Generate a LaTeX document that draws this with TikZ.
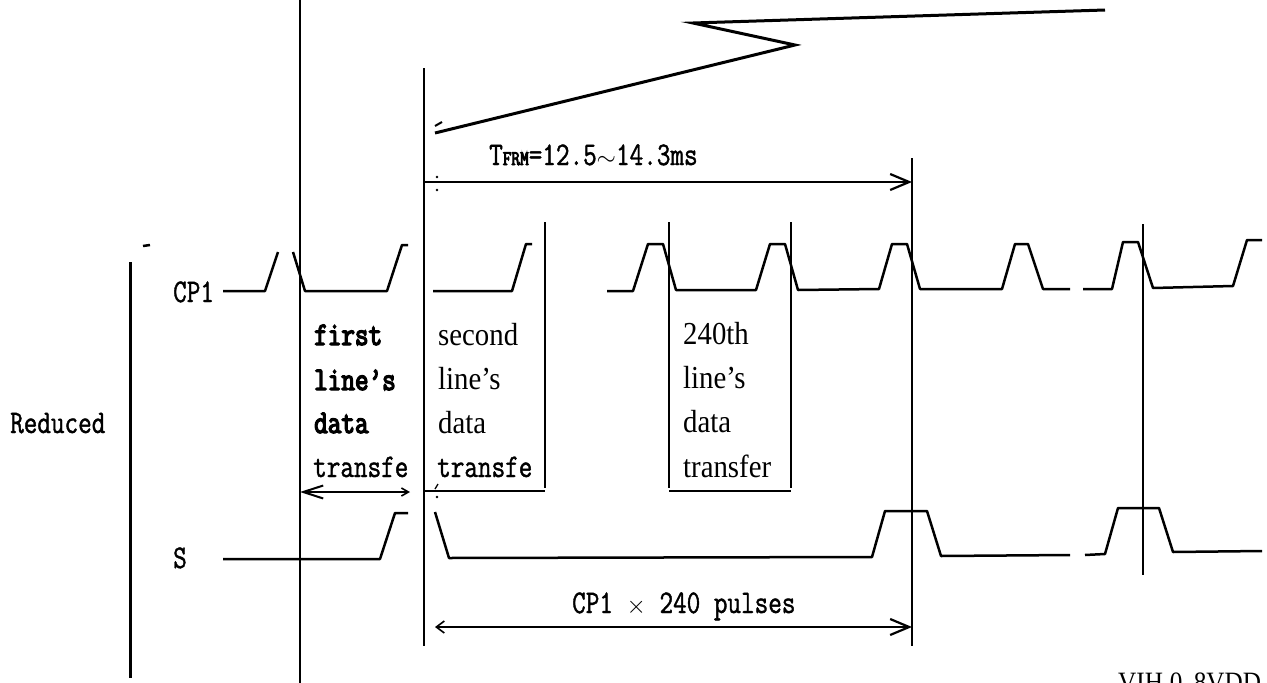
\documentclass[tikz,border=0pt]{standalone}
\usepackage{fontspec}
\usetikzlibrary{arrows.meta}
\newfontfamily\monof{Latin Modern Mono}[FakeStretch=0.8,FakeBold=1.2]
\newfontfamily\monobff{Latin Modern Mono}[FakeStretch=0.8,FakeBold=4]
\newfontfamily\serff{Liberation Serif}[FakeStretch=0.9]
\tikzset{
  txtmono/.style={font=\fontsize{33}{40}\selectfont\monof, inner sep=0pt, anchor=base west},
  txtmonob/.style={font=\fontsize{33}{40}\selectfont\monobff, inner sep=0pt, anchor=base west},
  txtserif/.style={font=\fontsize{32}{38}\selectfont\serff, inner sep=0pt, anchor=base west},
  wave/.style={line width=2.5pt, line join=round},
  vthick/.style={line width=2.5pt},
  vmid/.style={line width=2pt},
  vthin/.style={line width=1.4pt},
  dimarrow/.style={line width=2.2pt},
  bighead/.tip={Straight Barb[length=19pt,width=16pt,line width=2.2pt]},
  smallhead/.tip={Straight Barb[length=8pt,width=12pt,line width=1.6pt]},
}
\begin{document}
\begin{tikzpicture}[x=1pt,y=-1pt]
\clip (0,0) rectangle (1267,683);
\fill[white] (0,0) rectangle (1267,683);

% vertical lines
\draw[line width=3pt] (130,262) -- (130,678);
\draw[line width=2.5pt] (143,246) -- (150,245);
\draw[vthin] (300,0) -- (300,683);
\draw[vthick] (424,68) -- (424,646);
\draw[vmid] (545,222) -- (545,488);
\draw[vmid] (669,222) -- (669,488);
\draw[vmid] (791,222) -- (791,488);
\draw[vthin] (912,158) -- (912,646);
\draw[vthin] (1143,224) -- (1143,575);

% column bottoms
\draw[vmid] (424,491) -- (545,491);
\draw[vmid] (669,491) -- (791,491);
\coordinate (fa) at (300,492);
\coordinate (fb) at (410,492);
\draw[dimarrow, {Straight Barb[length=20pt,width=13pt,line width=2pt]}-{Straight Barb[length=7pt,width=8pt,line width=1.6pt]}] (fa) -- (fb);

% zigzag
\draw[line width=3pt, line join=miter] (435,133) -- (795,45) -- (693,23) -- (1105,10);
\draw[line width=2pt] (435,126) -- (442,122);

% T_FRM arrow
\coordinate (ta) at (424,182);
\coordinate (tb) at (912,182);
\draw[dimarrow, -bighead] (ta) -- (tb);
\fill (437,177) circle (1.3);
\fill (437,190) circle (1.3);
\node[txtmono] (tfrm) at (489,165) {T{\fontsize{21}{24}\selectfont\monobff FRM}=12.5{\fontsize{40}{44}\selectfont$\sim$}14.3ms};

% CP1 x 240 arrow
\coordinate (ca) at (435,627);
\coordinate (cb) at (912,627);
\draw[dimarrow, smallhead-bighead] (ca) -- (cb);
\node[txtmono] (cpn) at (572,613) {CP1 {\fontsize{44}{48}\selectfont$\times$} 240 pulses};

% small marks
\fill (437,497) circle (1.3);
\draw[line width=1.3pt] (435,489) -- (438,484);

% labels
\node[txtmono] (red) at (10,433) {Reduced};
\node[txtmono] (cp1) at (173,302) {CP1};
\node[txtmono] (s) at (173,568) {S};

% CP1 waveform
\draw[wave] (223,291) -- (265,291) -- (278,252);
\draw[wave] (293,252) -- (305,291) -- (387,291) -- (402,245) -- (408,245);
\draw[wave] (433,291) -- (512,291) -- (526,244) -- (532,244);
\draw[wave] (607,291) -- (633,291) -- (648,244) -- (663,244) -- (676,290) -- (756,290)
  -- (770,244) -- (785,244) -- (798,290) -- (879,289) -- (892,244) -- (907,244)
  -- (920,289) -- (1002,289) -- (1015,244) -- (1028,244) -- (1043,289) -- (1070,289);
\draw[wave] (1083,289) -- (1112,289) -- (1123,242) -- (1138,242) -- (1153,288)
  -- (1233,286) -- (1247,240) -- (1262,240);

% S waveform
\draw[wave] (223,559) -- (380,559) -- (395,513) -- (408,513);
\draw[wave] (435,512) -- (449,558) -- (872,557) -- (885,511) -- (927,511) -- (941,556) -- (1070,555);
\draw[wave] (1085,555) -- (1105,554) -- (1118,508) -- (1159,508) -- (1173,552) -- (1262,551);

% column texts
\node[txtmonob] (c1a) at (314,345) {first};
\node[txtmonob] (c1b) at (314,390) {line’s};
\node[txtmonob] (c1c) at (314,433) {data};
\node[txtmono]  (c1d) at (313,477) {transfe};

\node[txtserif] (c2a) at (438,345) {second};
\node[txtserif] (c2b) at (438,389) {line’s};
\node[txtserif] (c2c) at (438,433) {data};
\node[txtmono]  (c2d) at (437,477) {transfe};

\node[txtserif] (c3a) at (683,344) {240th};
\node[txtserif] (c3b) at (683,388) {line’s};
\node[txtserif] (c3c) at (683,432) {data};
\node[txtserif] (c3d) at (683,477) {transfer};

% bottom right text, cut by the lower edge as in the reference
\node[font=\fontsize{28}{34}\selectfont\serff, inner sep=0pt, anchor=north west] (vih) at (1118,673) {VIH\hspace{7pt}0.\hspace{5pt}8VDD};
\end{tikzpicture}
\end{document}
